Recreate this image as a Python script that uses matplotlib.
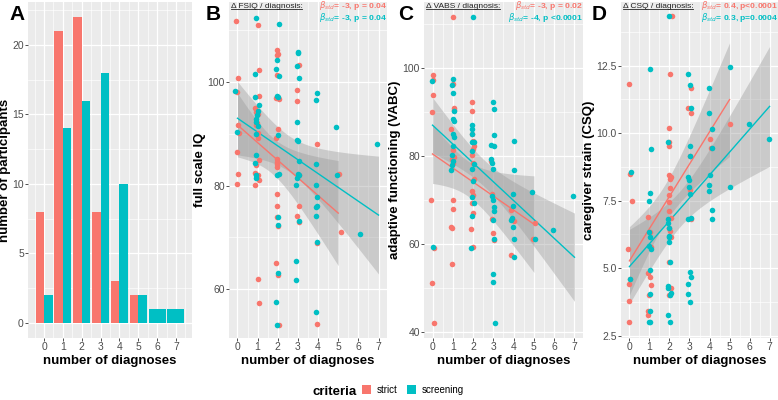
import numpy as np
import matplotlib
matplotlib.use("Agg")
import matplotlib.pyplot as plt
from matplotlib.lines import Line2D
from matplotlib.patches import Patch

plt.rcParams['font.family'] = ['Liberation Sans', 'DejaVu Sans']

ROJO = '#F8766D'
CIAN = '#00BFC4'

# Panel A: numero de participantes por numero de diagnosticos
diagnosticos = [0, 1, 2, 3, 4, 5, 6, 7]
n_strict = [8, 21, 22, 8, 3, 2, 0, 0]
n_screening = [2, 14, 16, 18, 10, 2, 1, 1]

# Panel B: FSIQ (x con jitter, y)
fsiq_strict_x = [-0.05, 0.05, -0.03, 0.03, 0.08, -0.03, 0.03, 0.0,
                 1.03, 1.08, 1.08, 0.89, 0.94, 1.03, 0.96, 0.94, 1.03, 1.0, 1.06, 0.94, 0.89, 1.03, 1.06, 0.89, 1.0, 1.08,
                 1.97, 2.02, 1.94, 1.94, 1.90, 2.07, 2.0, 1.90, 1.97, 1.94, 1.97, 1.97, 1.94, 1.97, 1.97, 2.0, 1.90, 2.02, 2.04,
                 3.06, 2.93, 2.96, 3.06, 3.06, 2.93, 3.06,
                 3.97, 3.96, 3.96,
                 5.02, 5.12]
fsiq_strict_y = [111.9, 100.8, 98.0, 91.8, 90.1, 86.5, 82.3, 80.3,
                 111.1, 102.3, 97.3, 95.0, 94.2, 93.9, 92.1, 91.8, 90.2, 89.1, 84.9, 83.9, 82.4, 82.0, 81.0, 80.1, 61.9, 57.2,
                 106.3, 105.5, 105.3, 101.4, 96.9, 96.8, 91.0, 89.1, 85.2, 84.6, 84.1, 83.6, 78.3, 76.1, 73.9, 72.2, 65.0, 62.7, 53.0,
                 103.3, 98.4, 96.3, 82.0, 76.1, 74.1, 73.0,
                 88.1, 68.9, 53.2,
                 82.3, 71.1]
fsiq_screen_x = [-0.1, 0.0,
                 0.94, 0.89, 0.89, 1.06, 1.01, 0.99, 0.94, 0.92, 1.01, 0.92, 0.93, 0.88, 0.94, 0.91,
                 2.05, 1.94, 1.90, 2.05, 1.94, 2.02, 2.02, 1.97, 2.05, 2.0, 2.02, 1.99, 1.90, 1.97,
                 3.01, 3.01, 2.96, 3.03, 2.93, 2.96, 2.98, 3.06, 3.01, 3.03, 2.95, 2.91, 3.06, 2.90, 2.90,
                 3.96, 3.92, 3.89, 3.92, 3.97, 3.96, 3.92, 3.92, 3.97, 3.92,
                 4.87, 4.95, 6.08, 6.94]
fsiq_screen_y = [98.2, 90.4,
                 112.5, 101.5, 97.2, 95.5, 94.4, 93.6, 92.9, 92.2, 91.6, 90.0, 85.9, 84.4, 82.0, 81.5,
                 111.2, 104.2, 102.6, 101.1, 97.4, 97.2, 89.7, 82.0, 82.3, 73.9, 72.3, 63.0, 57.4, 53.0,
                 105.9, 105.6, 103.2, 100.8, 92.3, 88.9, 88.6, 84.8, 82.3, 82.0, 81.5, 80.1, 73.1, 65.3, 61.7,
                 97.9, 96.6, 84.1, 80.1, 77.8, 76.1, 75.8, 74.1, 69.0, 55.5,
                 91.3, 82.1, 70.7, 88.1]

# Panel C: VABC
vabc_strict_x = [0.0, 0.03, 0.03, -0.05, -0.08, 0.07, -0.02, 0.05,
                 1.0, 1.03, 1.06, 1.06, 0.89, 1.0, 1.06, 0.94, 1.0, 1.03, 1.03, 0.89, 0.94, 0.94,
                 1.97, 1.97, 1.97, 2.02, 2.05, 2.02, 1.97, 2.02, 2.05, 1.97, 1.99, 1.97, 2.02, 1.90, 2.02,
                 2.89, 2.93, 2.93, 2.96, 3.01,
                 3.88, 4.0, 3.88,
                 5.03, 4.94]
vabc_strict_y = [98.3, 97.3, 93.8, 90.1, 70.0, 59.0, 51.1, 42.0,
                 111.7, 96.3, 91.0, 90.4, 86.2, 81.4, 79.7, 79.3, 78.3, 70.0, 68.0, 63.9, 63.7, 55.4,
                 92.2, 90.2, 84.9, 83.4, 82.3, 81.6, 80.3, 78.5, 74.8, 72.1, 71.2, 69.4, 67.1, 63.3, 59.2,
                 78.9, 71.4, 65.7, 62.4, 60.8,
                 67.6, 65.1, 57.4,
                 64.8, 61.1]
vabc_screen_x = [-0.05, 0.0,
                 1.03, 0.94, 0.99, 1.06, 1.03, 1.06, 1.03, 1.06, 0.99, 0.94, 1.03, 0.94, 0.91,
                 2.0, 1.97, 1.97, 1.97, 1.97, 2.06, 1.97, 2.06, 1.97, 2.02, 1.97, 2.06, 1.97, 1.90,
                 2.96, 3.01, 3.01, 2.89, 3.01, 2.89, 2.93, 2.96, 2.93, 2.96, 3.01, 3.01, 2.96, 3.01, 2.96, 2.96, 3.06,
                 4.03, 4.0, 3.99, 3.96, 3.92, 3.88, 3.96, 4.0, 4.03,
                 4.92, 5.03, 5.94, 6.93]
vabc_screen_y = [97.0, 59.2,
                 97.6, 96.1, 94.2, 90.2, 88.3, 88.0, 84.9, 84.2, 82.3, 80.1, 78.9, 78.0, 76.8,
                 111.7, 87.0, 86.1, 84.9, 83.1, 83.1, 81.2, 78.2, 77.0, 74.4, 70.6, 69.4, 66.3, 59.0,
                 92.2, 90.7, 84.7, 82.5, 82.2, 79.4, 78.3, 77.0, 71.0, 70.0, 68.4, 67.4, 65.4, 61.1, 53.1, 51.4, 42.0,
                 83.4, 76.8, 71.4, 68.6, 65.9, 65.4, 63.9, 61.1, 57.0,
                 71.7, 61.1, 63.1, 70.9]

# Panel D: CSQ
csq_strict_x = [0.0, 0.05, 0.12, -0.08, 0.05, 0.0, 0.0, 0.0,
                0.93, 1.05, 1.08, 0.91, 1.05, 1.06, 1.0, 0.94, 0.93,
                2.13, 2.03, 1.97, 2.0, 2.0, 1.99, 2.08, 2.03, 2.03, 2.0, 1.99, 1.97, 2.1, 2.0, 2.03, 2.08, 1.97, 2.1, 1.97,
                3.08, 2.92, 3.07, 3.03, 3.03, 3.06,
                4.01, 4.05, 5.0]
csq_strict_y = [11.8, 8.5, 7.5, 5.73, 4.6, 4.4, 3.78, 3.02,
                6.89, 6.35, 5.8, 4.83, 4.67, 4.37, 4.02, 3.43, 3.27,
                14.32, 12.2, 10.18, 9.66, 9.52, 8.44, 8.37, 8.3, 7.96, 7.72, 7.46, 7.1, 6.87, 6.5, 6.38, 6.15, 5.22, 4.28, 4.0,
                11.66, 10.93, 10.73, 9.17, 7.9, 6.83,
                9.79, 9.45, 10.34]
csq_screen_x = [0.08, 0.05,
                1.01, 1.06, 1.01, 0.98, 0.98, 1.04, 0.96, 1.08, 1.03, 1.05, 1.05, 0.98, 1.05,
                1.96, 1.95, 1.94, 1.94, 1.97, 1.97, 1.96, 1.97, 2.03, 1.92, 1.92, 2.1, 2.05, 1.94, 2.03,
                2.92, 3.05, 3.08, 3.05, 3.05, 2.95, 3.0, 2.98, 3.03, 3.1, 2.95, 3.03, 3.1, 2.92, 2.92, 3.03,
                3.99, 3.96, 4.12, 4.12, 4.03, 3.99, 3.99, 4.1, 4.1,
                5.0, 5.0, 5.98, 6.99]
csq_screen_y = [8.55, 4.59,
                12.38, 9.43, 7.79, 7.5, 6.35, 6.17, 5.84, 5.73, 4.93, 4.04, 3.42, 3.0, 3.0,
                14.32, 9.66, 6.83, 6.66, 6.5, 6.2, 6.15, 5.98, 5.22, 4.34, 4.27, 4.1, 4.02, 3.27, 3.0,
                12.2, 11.78, 10.93, 9.52, 9.17, 8.37, 8.27, 8.02, 7.74, 6.87, 6.83, 4.85, 4.66, 4.4, 4.04, 3.76,
                11.68, 10.73, 10.16, 9.45, 8.45, 8.09, 7.84, 7.15, 6.83,
                12.45, 7.99, 10.33, 9.79]


def estilo_ggplot(ax, xmaj, xmin, ymaj, ymin):
    """Fondo gris y rejilla blanca al estilo ggplot"""
    ax.set_facecolor('#EBEBEB')
    for s in ax.spines.values():
        s.set_visible(False)
    ax.set_xticks(xmaj)
    ax.set_xticks(xmin, minor=True)
    ax.set_yticks(ymaj)
    ax.set_yticks(ymin, minor=True)
    ax.grid(True, which='major', color='white', linewidth=0.9)
    ax.grid(True, which='minor', color='white', linewidth=0.45)
    ax.set_axisbelow(True)
    ax.tick_params(which='major', length=2.0, width=0.6, color='#333333',
                   labelsize=7.5, labelcolor='#4D4D4D', pad=1.0)
    ax.tick_params(which='minor', length=0)


def recta_lm(ax, x, y, color):
    """Recta de regresion con banda de confianza del 95%"""
    x = np.round(np.asarray(x))
    y = np.asarray(y)
    b, a = np.polyfit(x, y, 1)
    n = len(x)
    resid = y - (a + b * x)
    s = np.sqrt(np.sum(resid**2) / (n - 2))
    sxx = np.sum((x - x.mean())**2)
    xs = np.linspace(x.min(), x.max(), 80)
    ys = a + b * xs
    se = s * np.sqrt(1 / n + (xs - x.mean())**2 / sxx)
    t = 1.99
    ax.fill_between(xs, ys - t * se, ys + t * se, color='#999999', alpha=0.4, linewidth=0, zorder=2)
    ax.plot(xs, ys, color=color, linewidth=1.0, zorder=4)


fig = plt.figure(figsize=(7.78, 4.0), dpi=100)

posiciones = {
    'A': [28 / 778, 62 / 400, 164 / 778, 336 / 400],
    'B': [229 / 778, 62 / 400, 158 / 778, 336 / 400],
    'C': [424 / 778, 62 / 400, 159 / 778, 336 / 400],
    'D': [621 / 778, 62 / 400, 157 / 778, 336 / 400],
}

# --- Panel A ---
axA = fig.add_axes(posiciones['A'])
estilo_ggplot(axA, diagnosticos, np.arange(-0.5, 8, 1),
              [0, 5, 10, 15, 20], [2.5, 7.5, 12.5, 17.5, 22.5])
for d, ns, nc in zip(diagnosticos, n_strict, n_screening):
    if ns > 0:
        axA.bar(d - 0.225, ns, width=0.45, color=ROJO, zorder=3)
        axA.bar(d + 0.225, nc, width=0.45, color=CIAN, zorder=3)
    else:
        axA.bar(d, nc, width=0.9, color=CIAN, zorder=3)
axA.set_xlim(-0.85, 7.85)
axA.set_ylim(-1.1, 23.1)
axA.set_xlabel('number of diagnoses', fontsize=9.5, fontweight='bold', labelpad=2)
axA.set_ylabel('number of participants', fontsize=9.5, fontweight='bold', labelpad=1)

paneles = [
    ('B', fsiq_strict_x, fsiq_strict_y, fsiq_screen_x, fsiq_screen_y,
     [60, 80, 100], [50, 70, 90, 110], (50.5, 115.5), 'full scale IQ',
     '\u0394 FSIQ / diagnosis:', r'$\beta_{std}$= -3, p = 0.04', r'$\beta_{std}$= -3, p = 0.04'),
    ('C', vabc_strict_x, vabc_strict_y, vabc_screen_x, vabc_screen_y,
     [40, 60, 80, 100], [50, 70, 90, 110], (38.6, 115.0), 'adaptive functioning (VABC)',
     '\u0394 VABS / diagnosis:', r'$\beta_{std}$= -3, p = 0.02', r'$\beta_{std}$= -4, p <0.0001'),
    ('D', csq_strict_x, csq_strict_y, csq_screen_x, csq_screen_y,
     [2.5, 5.0, 7.5, 10.0, 12.5], [3.75, 6.25, 8.75, 11.25, 13.75], (2.42, 14.85), 'caregiver strain (CSQ)',
     '\u0394 CSQ / diagnosis:', r'$\beta_{std}$= 0.4, p<0.0001', r'$\beta_{std}$= 0.3, p=0.0004'),
]

titulos = []
for letra, sx, sy, cx, cy, ymaj, ymin, ylim, ylab, tit, bet_s, bet_c in paneles:
    ax = fig.add_axes(posiciones[letra])
    estilo_ggplot(ax, diagnosticos, np.arange(-0.5, 8, 1), ymaj, ymin)
    recta_lm(ax, sx, sy, ROJO)
    recta_lm(ax, cx, cy, CIAN)
    ax.scatter(sx, sy, s=16, color=ROJO, linewidths=0, zorder=5)
    ax.scatter(cx, cy, s=16, color=CIAN, linewidths=0, zorder=5)
    ax.set_xlim(-0.42, 7.42)
    ax.set_ylim(*ylim)
    if letra == 'D':
        ax.set_yticklabels(['2.5', '5.0', '7.5', '10.0', '12.5'])
    ax.set_xlabel('number of diagnoses', fontsize=9.5, fontweight='bold', labelpad=2)
    ax.set_ylabel(ylab, fontsize=9.5, fontweight='bold', labelpad=1)
    t = ax.text(0.01, 0.986, tit, transform=ax.transAxes, fontsize=6.0,
                ha='left', va='center', color='#222222', zorder=6)
    titulos.append(t)
    ax.text(0.998, 0.990, bet_s, transform=ax.transAxes, fontsize=6.1, fontweight='bold',
            ha='right', va='center', color=ROJO, zorder=6)
    ax.text(0.998, 0.953, bet_c, transform=ax.transAxes, fontsize=6.1, fontweight='bold',
            ha='right', va='center', color=CIAN, zorder=6)

# Letras de los paneles
for letra, xpx in [('A', 9), ('B', 206), ('C', 398), ('D', 592)]:
    fig.text(xpx / 778, 1 - 15 / 400, letra, fontsize=15, fontweight='bold', va='center', ha='left')

# Leyenda inferior
fig.text(335 / 778, 1 - 392 / 400, 'criteria', fontsize=9.5, fontweight='bold', ha='center', va='center')
manejadores = [Patch(facecolor=ROJO, label='strict'), Patch(facecolor=CIAN, label='screening')]
fig.legend(handles=manejadores, loc='center left', bbox_to_anchor=(362 / 778, 1 - 390 / 400),
           ncol=2, frameon=False, fontsize=7, handlelength=0.95, handleheight=0.95,
           handletextpad=0.6, columnspacing=0.9, borderpad=0, borderaxespad=0)

# Subrayado de los titulos de cada panel
fig.canvas.draw()
renderer = fig.canvas.get_renderer()
for t in titulos:
    bb = t.get_window_extent(renderer).transformed(fig.transFigure.inverted())
    fig.add_artist(Line2D([bb.x0, bb.x1], [bb.y0 + 0.002, bb.y0 + 0.002],
                          transform=fig.transFigure, color='#222222', linewidth=0.6))

fig.savefig('out.png', dpi=100)
